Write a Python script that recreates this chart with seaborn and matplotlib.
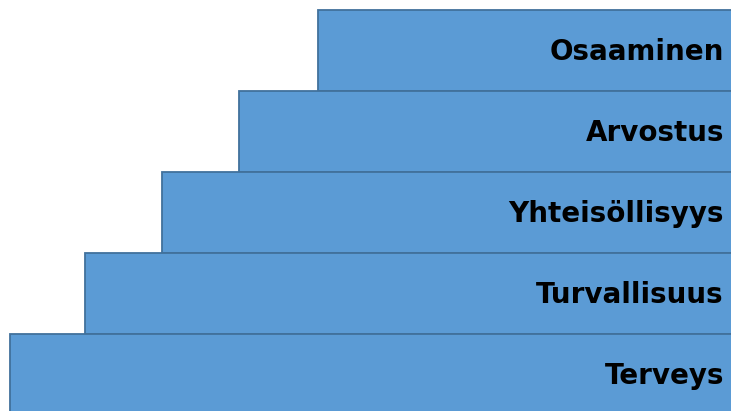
import pandas as pd
import seaborn as sns
import matplotlib.pyplot as plt

# Steps of the staircase, top to bottom
labels = ['Osaaminen', 'Arvostus', 'Yhteisöllisyys', 'Turvallisuus', 'Terveys']
# length of each step measured from the right edge
widths = [418, 497, 574, 651, 726]

df = pd.DataFrame({'label': labels, 'width': widths})

fig = plt.figure(figsize=(7.31, 4.11), dpi=100)
ax = fig.add_axes([0, 0, 1, 1])

sns.barplot(data=df, x='width', y='label', orient='h', color='#5B9BD5',
            saturation=1, width=1.0, edgecolor='#41719C', linewidth=1.3, ax=ax)

# steps grow out from beyond the right edge
ax.set_xlim(736, 5)
ax.set_ylim(4.451, -0.623)

for i, lab in enumerate(labels):
    ax.text(12, i + 0.02, lab, ha='right', va='center', fontsize=20,
            fontweight='bold', color='black')

ax.axis('off')
plt.savefig('out.png', dpi=100)
